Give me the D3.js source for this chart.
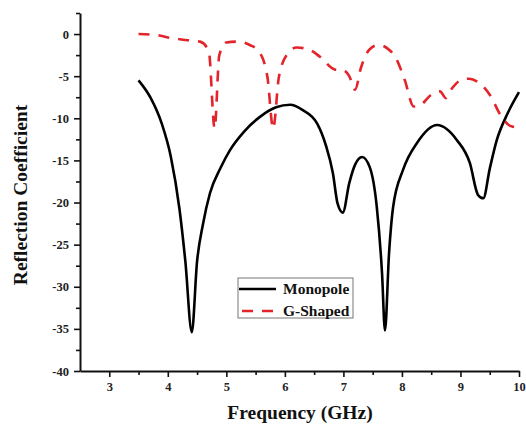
<!DOCTYPE html>
<html><head><meta charset="utf-8">
<script src="https://cdn.jsdelivr.net/npm/d3@7"></script>
<style>body{margin:0;background:#fff}svg{display:block}text{font-family:"Liberation Serif","Times New Roman",serif;font-weight:bold}</style>
</head><body>
<script>
const monoFreq = [3.5,3.7,3.9,4.05,4.2,4.3,4.41,4.5,4.6,4.72,4.9,5.06,5.3,5.58,5.85,6.09,6.3,6.55,6.7,6.82,6.9,6.99,7.1,7.2,7.32,7.45,7.57,7.66,7.71,7.78,7.85,8.02,8.26,8.6,8.94,9.16,9.3,9.39,9.5,9.62,9.8,10];
const monoVals = [-5.5,-7.5,-10.7,-14.5,-20.8,-27,-35.4,-27,-22.6,-18.9,-15.9,-13.8,-11.6,-9.8,-8.7,-8.4,-9.0,-10.6,-13.2,-16.5,-20.1,-21.2,-17.7,-15.5,-14.6,-15.8,-20.5,-28.4,-35.2,-26,-20.5,-16.1,-12.9,-10.8,-12.6,-15.3,-19.1,-19.5,-16,-12.6,-9.5,-6.9];
const gFreq = [3.5,3.8,4.0,4.3,4.55,4.7,4.8,4.88,5.0,5.2,5.4,5.55,5.7,5.8,5.9,6.05,6.2,6.4,6.6,6.85,7.0,7.1,7.2,7.3,7.45,7.6,7.75,7.9,8.05,8.2,8.3,8.5,8.65,8.75,8.85,9.0,9.15,9.3,9.5,9.7,9.85,10];
const gVals = [0,-0.1,-0.4,-0.7,-0.9,-2,-11.2,-2.5,-1.0,-0.9,-1.3,-2.0,-5.0,-11.2,-5.0,-2.3,-1.6,-1.8,-2.7,-4.2,-4.3,-5.0,-6.6,-4.0,-1.8,-1.3,-1.7,-2.9,-5.5,-8.6,-8.5,-7.2,-6.8,-7.6,-6.5,-5.5,-5.3,-5.7,-7.2,-9.8,-10.9,-11.1];
const xTicks = [3,4,5,6,7,8,9,10];
const yTicks = [0,-5,-10,-15,-20,-25,-30,-35,-40];
const seriesNames = ["Monopole","G-Shaped"];

const W=526,H=427;
const svg=d3.select("body").append("svg").attr("width",W).attr("height",H);
const x=d3.scaleLinear().domain([2.5,10]).range([80,519]);
const y=d3.scaleLinear().domain([-40,2.5]).range([371,13]);

// minor ticks
const xMinor=d3.range(3.5,10,1);
const yMinor=d3.range(-37.5,3,5);
const gx=svg.append("g").attr("transform","translate(0,371)");
gx.append("g").call(d3.axisBottom(x).tickValues(xMinor).tickSize(4).tickFormat("")).call(g=>g.select(".domain").remove());
gx.append("g").call(d3.axisBottom(x).tickValues(xTicks).tickSize(6).tickSizeOuter(0).tickPadding(5).tickFormat(d3.format("d")));
const gy=svg.append("g").attr("transform","translate(80,0)");
gy.append("g").call(d3.axisLeft(y).tickValues(yMinor).tickSize(4).tickFormat("")).call(g=>g.select(".domain").remove());
gy.append("g").call(d3.axisLeft(y).tickValues(yTicks).tickSize(6).tickSizeOuter(0).tickPadding(5).tickFormat(d=>String(d)));
svg.selectAll(".domain").attr("stroke","#111").attr("stroke-width",2);
svg.selectAll(".tick line").attr("stroke","#111").attr("stroke-width",1.6);
svg.selectAll(".tick text").attr("font-size",12.5).attr("fill","#222").style("font-family","'Liberation Serif',serif").style("font-weight","bold");

const line=d3.line().x(d=>x(d[0])).y(d=>y(d[1])).curve(d3.curveMonotoneX);
svg.append("path").datum(monoFreq.map((f,i)=>[f,monoVals[i]])).attr("d",line)
  .attr("fill","none").attr("stroke","#000").attr("stroke-width",2.6).attr("stroke-linejoin","round");
svg.append("path").datum(gFreq.map((f,i)=>[f,gVals[i]])).attr("d",line)
  .attr("fill","none").attr("stroke","#e3242b").attr("stroke-width",2.6).attr("stroke-dasharray","11,9");

// axis titles
svg.append("text").attr("x",300).attr("y",419).attr("text-anchor","middle").attr("font-size",19.5).attr("fill","#111").text("Frequency (GHz)");
svg.append("text").attr("transform","translate(27,195) rotate(-90)").attr("text-anchor","middle").attr("font-size",19.5).attr("fill","#111").text("Reflection Coefficient");

// legend
const lg=svg.append("g");
lg.append("rect").attr("x",238).attr("y",278).attr("width",115).attr("height",40).attr("fill","#fff").attr("stroke","#777").attr("stroke-width",1);
lg.append("line").attr("x1",239).attr("x2",276).attr("y1",289).attr("y2",289).attr("stroke","#000").attr("stroke-width",2.6);
lg.append("line").attr("x1",239).attr("x2",276).attr("y1",311).attr("y2",311).attr("stroke","#e3242b").attr("stroke-width",2.6).attr("stroke-dasharray","11,9").attr("stroke-dashoffset",-3);
lg.append("text").attr("x",283).attr("y",294).attr("font-size",15.5).attr("fill","#111").text(seriesNames[0]);
lg.append("text").attr("x",283).attr("y",316).attr("font-size",15.5).attr("fill","#111").text(seriesNames[1]);
</script>
</body></html>
